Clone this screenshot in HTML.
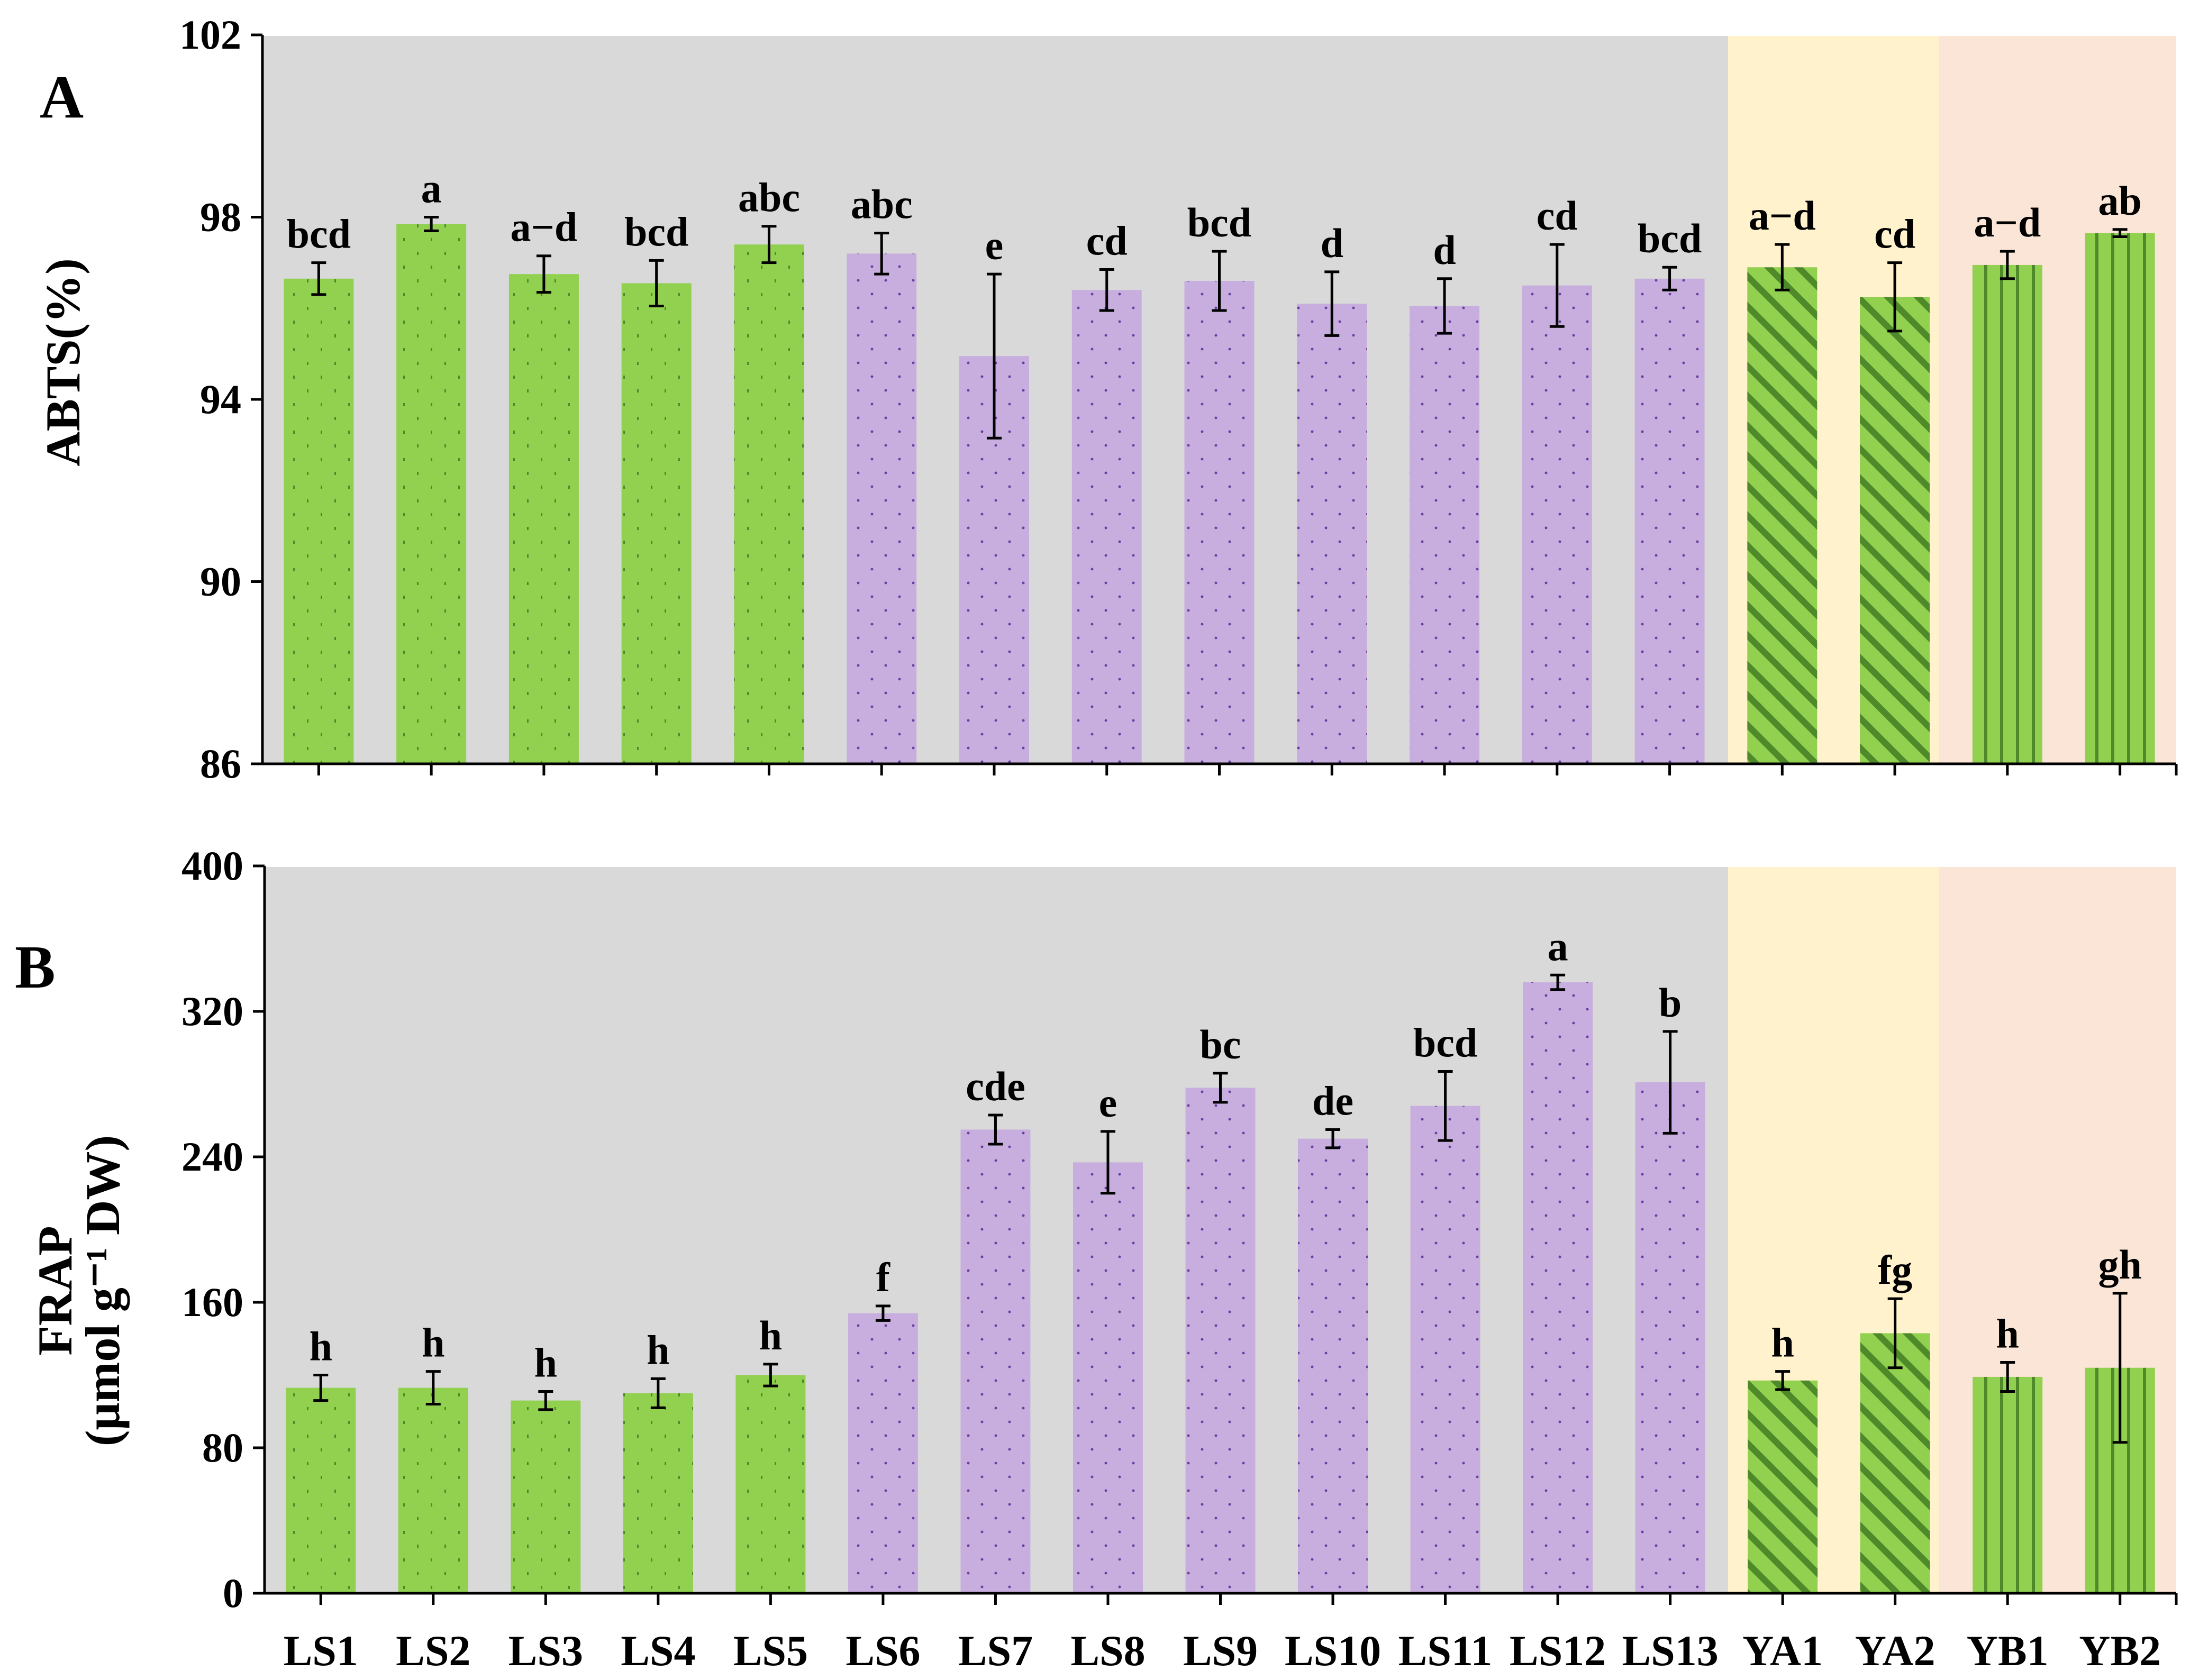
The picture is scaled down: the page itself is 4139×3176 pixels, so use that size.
<!DOCTYPE html>
<html><head><meta charset="utf-8"><style>
html,body{margin:0;padding:0;background:#fff}
svg{display:block}
text{font-family:"Liberation Serif",serif;font-weight:bold;fill:#000}
</style></head><body>
<svg id="chart" width="4139" height="3176" viewBox="0 0 4139 3176" xmlns="http://www.w3.org/2000/svg">
<defs>
<pattern id="dotG" width="52" height="52" patternUnits="userSpaceOnUse"><rect width="52" height="52" fill="#92d050"/><rect x="8" y="8" width="3" height="6" fill="#4e8a2a"/><rect x="34" y="34" width="3" height="6" fill="#4e8a2a"/></pattern>
<pattern id="dotP" width="52" height="52" patternUnits="userSpaceOnUse"><rect width="52" height="52" fill="#c8aedf"/><circle cx="10" cy="10" r="2.5" fill="#6a3fa0"/><circle cx="36" cy="36" r="2.5" fill="#6a3fa0"/></pattern>
<pattern id="diag" width="40" height="40" patternUnits="userSpaceOnUse" patternTransform="rotate(-45)"><rect width="40" height="40" fill="#92d050"/><rect width="12" height="40" fill="#4e8a2a"/></pattern>
<pattern id="vert" width="30" height="30" patternUnits="userSpaceOnUse"><rect width="30" height="30" fill="#92d050"/><rect width="6" height="30" fill="#4e8a2a"/></pattern>
</defs>
<g id="panels"></g>
</svg>
<script>
const categories=["LS1","LS2","LS3","LS4","LS5","LS6","LS7","LS8","LS9","LS10","LS11","LS12","LS13","YA1","YA2","YB1","YB2"];
const fills=["dotG","dotG","dotG","dotG","dotG","dotP","dotP","dotP","dotP","dotP","dotP","dotP","dotP","diag","diag","vert","vert"];
const abtsValues=[96.65,97.85,96.75,96.55,97.4,97.2,94.95,96.4,96.6,96.1,96.05,96.5,96.65,96.9,96.25,96.95,97.65];
const abtsErrors=[0.35,0.15,0.4,0.5,0.4,0.45,1.8,0.45,0.65,0.7,0.6,0.9,0.25,0.5,0.75,0.3,0.08];
const abtsLetters=["bcd","a","a\u2212d","bcd","abc","abc","e","cd","bcd","d","d","cd","bcd","a\u2212d","cd","a\u2212d","ab"];
const abtsTicks=[86,90,94,98,102];
const frapValues=[113,113,106,110,120,154,255,237,278,250,268,336,281,117,143,119,124];
const frapErrors=[7,9,5,8,6,4,8,17,8,5,19,4,28,5,19,8,41];
const frapLetters=["h","h","h","h","h","f","cde","e","bc","de","bcd","a","b","h","fg","h","gh"];
const frapTicks=[0,80,160,240,320,400];

const NS="http://www.w3.org/2000/svg";
const root=document.getElementById('panels');
function mk(tag,attrs,parent,text){const e=document.createElementNS(NS,tag);for(const k in attrs)e.setAttribute(k,attrs[k]);if(text!==undefined)e.textContent=text;(parent||root).appendChild(e);return e;}

function panel(cfg){
  const g=mk('g',{});
  
  
  const x0=cfg.x0,x1=4113,yTop=cfg.yTop,yBot=cfg.yBot,min=cfg.min,max=cfg.max;
  const bw=(x1-x0)/categories.length;
  const X=i=>x0+bw*(i+0.5);
  const Y=v=>yBot-(v-min)/(max-min)*(yBot-yTop);
  const bgs=[[x0,3266,'#d9d9d9'],[3266,3664,'#fff2cc'],[3664,x1,'#fbe5d6']];
  bgs.forEach(b=>{const r=mk('rect',{x:b[0],y:yTop+2,width:b[1]-b[0],height:yBot-yTop-2,fill:b[2]},g);
    
    });
  cfg.values.forEach((v,i)=>{
    const w=132,top=Y(v);
    const r=mk('rect',{x:X(i)-w/2,y:top,width:w,height:yBot-top,fill:'url(#'+fills[i]+')'},g);
    
    
    const e=cfg.errors[i],hi=Y(v+e),lo=Y(v-e);
    const eb=mk('path',{d:`M${X(i)} ${hi}V${lo}M${X(i)-14} ${hi}H${X(i)+14}M${X(i)-14} ${lo}H${X(i)+14}`,stroke:'#000','stroke-width':5,fill:'none'},g);
    
    
    const t=mk('text',{x:X(i),y:hi-28,'text-anchor':'middle','font-size':78},g,cfg.letters[i]);
    
    
  });
  mk('path',{d:`M${x0} ${yTop}V${yBot}H${x1}`,stroke:'#000','stroke-width':5,fill:'none'},g);
  cfg.ticks.forEach(tv=>{const y=Y(tv);
    mk('line',{x1:x0-22,x2:x0,y1:y,y2:y,stroke:'#000','stroke-width':5},g);
    const t=mk('text',{x:x0-40,y:y+26,'text-anchor':'end','font-size':78},g,tv);
    
    });
  for(let i=0;i<=categories.length;i++){const xx=i<categories.length?X(i):x1;
    mk('line',{x1:xx,x2:xx,y1:yBot,y2:yBot+22,stroke:'#000','stroke-width':5},g);}
  if(cfg.xlabels){categories.forEach((c,i)=>{const t=mk('text',{x:X(i),y:3148,'text-anchor':'middle','font-size':82},g,c);
    
    });}
  return g;
}
panel({name:'panel-a-abts',x0:496,yTop:66,yBot:1444,min:86,max:102,values:abtsValues,errors:abtsErrors,letters:abtsLetters,ticks:abtsTicks});
panel({name:'panel-b-frap',x0:500,yTop:1637,yBot:3012,min:0,max:400,values:frapValues,errors:frapErrors,letters:frapLetters,ticks:frapTicks,xlabels:true});

let t;
t=mk('text',{x:75,y:222,'font-size':115},root,'A');


t=mk('text',{x:28,y:1867,'font-size':115},root,'B');


t=mk('text',{x:0,y:0,'font-size':92,'text-anchor':'middle',transform:'translate(150,685) rotate(-90)'},root,'ABTS(%)');


t=mk('text',{x:0,y:0,'font-size':92,'text-anchor':'middle',transform:'translate(135,2440) rotate(-90)'},root,'FRAP');


t=mk('text',{x:0,y:0,'font-size':92,'text-anchor':'middle',transform:'translate(225,2440) rotate(-90)'},root,'(\u03bcmol g\u207b\u00b9 DW)');


</script>
</body></html>
